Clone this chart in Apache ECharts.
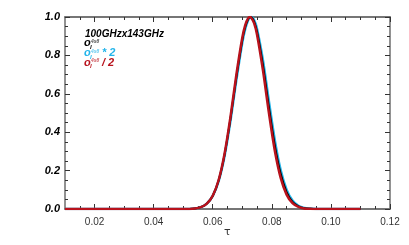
<!DOCTYPE html>
<html><head><meta charset="utf-8">
<script src="https://cdn.jsdelivr.net/npm/echarts@6/dist/echarts.min.js"></script>
<style>html,body{margin:0;padding:0;background:#fff}#c{width:409px;height:245px}</style>
</head><body><div id="c"></div>
<script>
// tau grid (x values)
const tau = [0.010, 0.050, 0.054, 0.056, 0.058, 0.060, 0.062, 0.064, 0.066, 0.068, 0.070, 0.071, 0.072, 0.0726, 0.073, 0.074, 0.075, 0.077, 0.079, 0.081, 0.083, 0.085, 0.087, 0.089, 0.091, 0.093, 0.095, 0.100, 0.110];
// o_l^{4x8} * 2 (cyan)
const cyanVals = [0.000, 0.000, 0.003, 0.010, 0.028, 0.068, 0.145, 0.275, 0.458, 0.671, 0.866, 0.938, 0.984, 0.997, 1.000, 0.984, 0.938, 0.775, 0.563, 0.360, 0.203, 0.101, 0.044, 0.017, 0.006, 0.002, 0.000, 0.000, 0.000];
// o_l^{4x8} (black)
const blackVals = [0.000, 0.000, 0.003, 0.010, 0.028, 0.068, 0.148, 0.282, 0.469, 0.686, 0.879, 0.948, 0.989, 0.999, 0.999, 0.976, 0.923, 0.749, 0.533, 0.333, 0.183, 0.088, 0.037, 0.014, 0.004, 0.001, 0.000, 0.000, 0.000];
// o_l^{4x8} / 2 (red)
const redVals = [0.000, 0.000, 0.003, 0.010, 0.028, 0.069, 0.151, 0.288, 0.480, 0.700, 0.892, 0.958, 0.994, 1.000, 0.997, 0.968, 0.908, 0.722, 0.502, 0.305, 0.162, 0.075, 0.030, 0.011, 0.003, 0.001, 0.000, 0.000, 0.000];
// axis ticks
const xMajor = [0.02, 0.04, 0.06, 0.08, 0.10, 0.12];
const xMinor = [0.015, 0.025, 0.03, 0.035, 0.045, 0.05, 0.055, 0.065, 0.07, 0.075, 0.085, 0.09, 0.095, 0.105, 0.11, 0.115];
const yTicks = [0.0, 0.2, 0.4, 0.6, 0.8, 1.0];

const CYAN = '#22b4ea', RED = '#b8121c', BLACK = '#000';
const pair = v => tau.map((t, i) => [t, v[i]]);
const axisCol = '#6e6e6e';

function xAx(pos, custom, len, labels) {
  return {
    type: 'value', position: pos, min: 0.01, max: 0.12,
    axisLine: {show: true, onZero: false, lineStyle: {color: axisCol, width: 1.5}},
    axisTick: {show: true, inside: true, length: len, customValues: custom, lineStyle: {color: '#333', width: 1}},
    axisLabel: labels ? {show: true, customValues: xMajor, formatter: v => v.toFixed(2), color: '#333', fontFamily: 'Liberation Sans', fontSize: 10, margin: 8} : {show: false},
    splitLine: {show: false}
  };
}
function yAx(pos, labels) {
  return {
    type: 'value', position: pos, min: yTicks[0], max: yTicks[yTicks.length - 1], interval: 0.2,
    axisLine: {show: true, lineStyle: {color: axisCol, width: 1.5}},
    axisTick: {show: true, inside: true, length: 5, lineStyle: {color: '#333'}},
    minorTick: {show: true, splitNumber: 4, length: 3, lineStyle: {color: '#333'}},
    axisLabel: labels ? {show: true, formatter: v => v.toFixed(1), color: '#000', fontFamily: 'Liberation Sans', fontWeight: 'bold', fontStyle: 'italic', fontSize: 11, margin: 5} : {show: false},
    splitLine: {show: false}
  };
}

function legendLine(top, color, suffix) {
  const x0 = 84;
  const els = [
    {type: 'text', x: x0, y: top, style: {text: 'o', fill: color, font: 'italic bold 11px "Liberation Sans"', verticalAlign: 'top'}},
    {type: 'text', x: x0 + 7, y: top + 1.5, style: {text: '4x8', fill: color, opacity: 0.7, font: 'italic bold 5px "Liberation Sans"', verticalAlign: 'top'}},
    {type: 'text', x: x0 + 6, y: top + 6.5, style: {text: 'l', fill: color, font: 'italic bold 6px "Liberation Sans"', verticalAlign: 'top'}}
  ];
  if (suffix) els.push({type: 'text', x: x0 + 18, y: top, style: {text: suffix, fill: color, font: 'italic bold 11px "Liberation Sans"', verticalAlign: 'top'}});
  return els;
}

const chart = echarts.init(document.getElementById('c'), null, {renderer: 'canvas'});
chart.setOption({
  animation: false,
  backgroundColor: '#fff',
  grid: {left: 65, right: 19, top: 17, bottom: 36, containLabel: false},
  xAxis: [xAx('bottom', xMajor, 5, true), xAx('bottom', xMinor, 3, false), xAx('top', xMajor, 5, false), xAx('top', xMinor, 3, false)],
  yAxis: [yAx('left', true), yAx('right', false)],
  series: [
    {type: 'line', data: pair(cyanVals), smooth: 0.3, showSymbol: false, lineStyle: {color: CYAN, width: 2.5}, z: 2},
    {type: 'line', data: pair(blackVals), smooth: 0.3, showSymbol: false, lineStyle: {color: BLACK, width: 2}, z: 3},
    {type: 'line', data: pair(redVals), smooth: 0.3, showSymbol: false, lineStyle: {color: RED, width: 2.5}, z: 4}
  ],
  graphic: [
    {type: 'text', x: 85, y: 29, style: {text: '100GHzx143GHz', fill: '#000', font: 'italic bold 10px "Liberation Sans"', verticalAlign: 'top'}},
    ...legendLine(37.5, BLACK, ''),
    ...legendLine(47.5, CYAN, '* 2'),
    ...legendLine(57, RED, '/ 2'),
    {type: 'text', x: 224, y: 227, style: {text: 'τ', fill: '#333', font: '11px "DejaVu Sans"', verticalAlign: 'top'}}
  ]
});
</script></body></html>
